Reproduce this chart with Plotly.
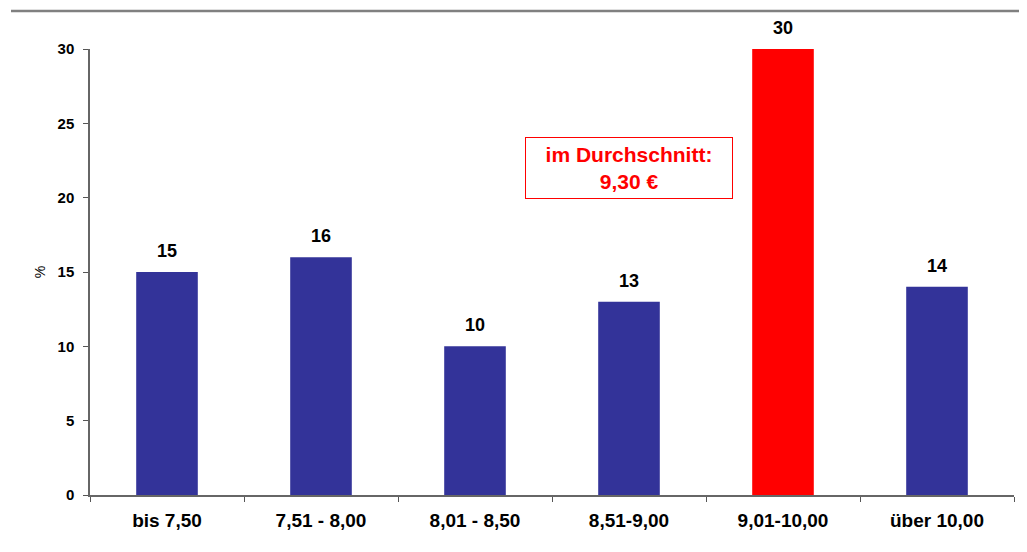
import plotly.graph_objects as go

categories = ["bis 7,50", "7,51 - 8,00", "8,01 - 8,50", "8,51-9,00", "9,01-10,00", "über 10,00"]
values = [15, 16, 10, 13, 30, 14]
colors = ["#333399", "#333399", "#333399", "#333399", "#FF0000", "#333399"]
y_ticks = [0, 5, 10, 15, 20, 25, 30]
note_text = "im Durchschnitt:<br>9,30 €"

FONT = "Arial, Liberation Sans, sans-serif"

fig = go.Figure(go.Bar(
    x=categories, y=values, marker_color=colors, marker_line_width=0,
    width=0.4,
))

value_labels = [dict(
    x=c, y=v, xref="x", yref="y", text=str(v), showarrow=False,
    yanchor="bottom", yshift=9,
    font=dict(family=FONT, size=18, color="black", weight="bold"),
) for c, v in zip(categories, values)]

fig.update_layout(
    width=1027, height=552,
    margin=dict(l=82, r=21, t=41, b=65),
    paper_bgcolor="white", plot_bgcolor="white",
    showlegend=False,
    font=dict(family=FONT, color="black"),
    xaxis=dict(
        type="category", tickson="boundaries", ticks="outside", ticklen=5,
        tickcolor="#555", showline=True, linecolor="#666", linewidth=1.5,
        showgrid=False, ticklabelstandoff=7,
        tickfont=dict(family=FONT, size=19, color="black", weight="bold"),
    ),
    yaxis=dict(
        range=[0, 30], tickvals=y_ticks, ticks="outside", ticklen=5,
        tickcolor="#555", showline=True, linecolor="#666", linewidth=1.5,
        showgrid=False, zeroline=False, ticklabelstandoff=6,
        tickfont=dict(family=FONT, size=15, color="black", weight="bold"),
        title=dict(text="%", font=dict(family=FONT, size=14, color="black"), standoff=9),
    ),
    shapes=[dict(type="line", xref="paper", yref="paper",
                 x0=(3 - 82) / 924, x1=1.03, y0=(487 - 3) / 446, y1=(487 - 3) / 446,
                 line=dict(color="#808080", width=2.5))],
    annotations=value_labels + [dict(
        x=3, y=22, xref="x", yref="y", text=note_text, showarrow=False,
        font=dict(family=FONT, size=21, color="#FF0000", weight="bold"),
        bordercolor="#FF0000", borderwidth=1, borderpad=3, bgcolor="white",
        width=200, height=54, align="center", valign="middle",
    )],
)

fig.write_html("out.html")
